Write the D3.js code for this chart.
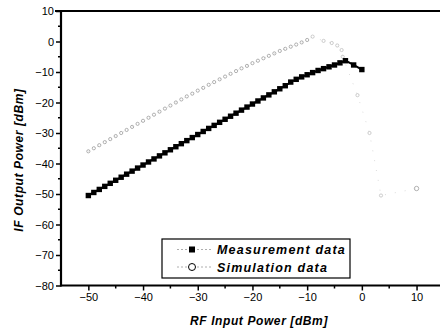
<!DOCTYPE html>
<html>
<head>
<meta charset="utf-8">
<script src="https://cdn.jsdelivr.net/npm/d3@7"></script>
<style>
  body { margin: 0; background: #fff; }
  svg { display: block; }
  text { font-family: "Liberation Sans", Arial, sans-serif; }
</style>
</head>
<body>
<div id="chart"></div>
<script>
// measurement data (filled squares)
let measX = [-50, -49, -48, -47, -46, -45, -44, -43, -42, -41, -40, -39, -38, -37, -36, -35, -34, -33, -32, -31,
  -30, -29, -28, -27, -26, -25, -24, -23, -22, -21, -20, -19, -18, -17, -16, -15, -14, -13, -12, -11,
  -10, -9, -8, -7, -6, -5, -4, -3, -1.5, 0];
let measY = [-50.5, -49.5, -48.5, -47.5, -46.5, -45.5, -44.5, -43.5, -42.5, -41.5, -40.5, -39.5, -38.5, -37.5, -36.5, -35.5, -34.5, -33.5, -32.5, -31.5,
  -30.5, -29.5, -28.5, -27.5, -26.5, -25.5, -24.5, -23.5, -22.5, -21.5, -20.5, -19.5, -18.5, -17.5, -16.5, -15.5, -14.5, -13.3, -12.4, -11.6,
  -10.9, -10.2, -9.5, -8.9, -8.3, -7.7, -7.0, -6.3, -7.7, -9.2];

// simulation data (open circles)
let simX = [-50, -49, -48, -47, -46, -45, -44, -43, -42, -41, -40, -39, -38, -37, -36, -35, -34, -33, -32, -31,
  -30, -29, -28, -27, -26, -25, -24, -23, -22, -21, -20, -19, -18, -17, -16, -15, -14, -13, -12, -11,
  -10, -9, -7, -5.5, -4.5, -3.7, -3.5, -0.8, 1.4, 3.5, 10];
let simY = [-36.0, -35.0, -34.0, -33.0, -32.0, -31.0, -30.0, -29.0, -28.0, -27.0, -26.0, -25.0, -24.0, -23.0, -22.0, -21.0, -20.0, -19.0, -18.0, -17.1,
  -16.1, -15.2, -14.2, -13.3, -12.4, -11.5, -10.6, -9.7, -8.8, -8.0, -7.1, -6.3, -5.5, -4.7, -3.9, -3.1, -2.4, -1.7, -1.0, -0.3,
  0.5, 1.6, 0.2, -0.5, -1.3, -2.8, -5.0, -17.6, -30.0, -50.5, -48.2];

let xTicks = [-50, -40, -30, -20, -10, 0, 10];
let xMinor = [-45, -35, -25, -15, -5, 5];
let yTicks = [10, 0, -10, -20, -30, -40, -50, -60, -70, -80];
let yMinor = [5, -5, -15, -25, -35, -45, -55, -65, -75];

let legendLabels = ['Measurement data', 'Simulation data'];

let width = 440, height = 334;
let margin = {top: 11, left: 61, bottom: 48};

let svg = d3.select('#chart').append('svg')
  .attr('width', width).attr('height', height);

let x = d3.scaleLinear().domain([-55, 15]).range([margin.left, margin.left + 70 * 5.47]);
let y = d3.scaleLinear().domain([10, -80]).range([margin.top, height - margin.bottom - 0.5]);

let meas = measX.map((v, i) => ({x: v, y: measY[i]}));
let sim = simX.map((v, i) => ({x: v, y: simY[i]}));

let line = d3.line().x(d => x(d.x)).y(d => y(d.y));

// simulation: faint dotted line + small open circles
svg.append('path')
  .attr('d', line(sim))
  .attr('fill', 'none')
  .attr('stroke', '#c4c4c4')
  .attr('stroke-width', 0.6)
  .attr('stroke-dasharray', '1,9');

svg.selectAll('.sim').data(sim).enter().append('circle')
  .attr('class', 'sim')
  .attr('cx', d => x(d.x)).attr('cy', d => y(d.y))
  .attr('r', d => d.x > 9 ? 2.2 : 1.6)
  .attr('fill', 'none')
  .attr('stroke', d => d.x > -10 && d.x < 9 ? '#b8b8b8' : '#909090')
  .attr('stroke-width', 0.7);

// measurement: line + filled squares
svg.append('path')
  .attr('d', line(meas))
  .attr('fill', 'none')
  .attr('stroke', '#000')
  .attr('stroke-width', 2);

svg.selectAll('.meas').data(meas).enter().append('rect')
  .attr('class', 'meas')
  .attr('x', d => x(d.x) - 2.7).attr('y', d => y(d.y) - 2.7)
  .attr('width', 5.4).attr('height', 5.4)
  .attr('fill', '#000');

// axes
let xAxis = d3.axisBottom(x).tickValues(xTicks).tickSize(5).tickPadding(3).tickFormat(d3.format('d'));
let yAxis = d3.axisLeft(y).tickValues(yTicks).tickSize(5).tickPadding(2).tickFormat(d3.format('d'));

let gx = svg.append('g')
  .attr('transform', 'translate(0,' + y(-80) + ')')
  .call(xAxis);
gx.select('.domain').remove();
gx.selectAll('.tick line').attr('stroke-width', 1.5);

gx.selectAll('.minor').data(xMinor).enter().append('line')
  .attr('x1', d => x(d)).attr('x2', d => x(d))
  .attr('y1', 0).attr('y2', 3)
  .attr('stroke', '#000').attr('stroke-width', 1.5);

let gy = svg.append('g')
  .attr('transform', 'translate(' + margin.left + ',0)')
  .call(yAxis);
gy.select('.domain').remove();
gy.selectAll('.tick line').attr('stroke-width', 1.5);

gy.selectAll('.minor').data(yMinor).enter().append('line')
  .attr('x1', 0).attr('x2', -3)
  .attr('y1', d => y(d)).attr('y2', d => y(d))
  .attr('stroke', '#000').attr('stroke-width', 1.5);

svg.selectAll('.tick text')
  .attr('font-size', '11px')
  .attr('font-family', '"Liberation Sans", Arial, sans-serif')
  .attr('fill', '#000');

// frame lines
svg.append('line')
  .attr('x1', margin.left).attr('x2', width)
  .attr('y1', y(-80)).attr('y2', y(-80))
  .attr('stroke', '#000').attr('stroke-width', 2.2);
svg.append('line')
  .attr('x1', margin.left - 6).attr('x2', width)
  .attr('y1', y(10)).attr('y2', y(10))
  .attr('stroke', '#000').attr('stroke-width', 2.2);
svg.append('line')
  .attr('x1', margin.left).attr('x2', margin.left)
  .attr('y1', y(10) - 1).attr('y2', y(-80) + 1)
  .attr('stroke', '#000').attr('stroke-width', 2.2);

// axis titles
svg.append('text')
  .attr('x', 259).attr('y', 325)
  .attr('text-anchor', 'middle')
  .attr('font-size', '12px')
  .attr('font-weight', 'bold')
  .attr('font-style', 'italic')
  .attr('letter-spacing', '0.6px')
  .text('RF Input Power [dBm]');

svg.append('text')
  .attr('transform', 'translate(23,160) rotate(-90)')
  .attr('text-anchor', 'middle')
  .attr('font-size', '12px')
  .attr('font-weight', 'bold')
  .attr('font-style', 'italic')
  .attr('letter-spacing', '0.6px')
  .text('IF Output Power [dBm]');

// legend
let lg = svg.append('g');
lg.append('rect')
  .attr('x', 162).attr('y', 239)
  .attr('width', 188).attr('height', 39)
  .attr('fill', '#fff')
  .attr('stroke', '#000').attr('stroke-width', 1.2);

let rows = lg.selectAll('.row').data(legendLabels).enter().append('g')
  .attr('transform', (d, i) => 'translate(0,' + (249.5 + i * 17.5) + ')');

rows.append('line')
  .attr('x1', 177).attr('x2', 211)
  .attr('stroke', '#999').attr('stroke-width', 0.8)
  .attr('stroke-dasharray', '2,2');

rows.filter((d, i) => i === 0).append('rect')
  .attr('x', 189).attr('y', -3).attr('width', 6).attr('height', 6)
  .attr('fill', '#000');

rows.filter((d, i) => i === 1).append('circle')
  .attr('cx', 192).attr('cy', 0).attr('r', 3.5)
  .attr('fill', '#fff').attr('stroke', '#000').attr('stroke-width', 1);

rows.append('text')
  .attr('x', 217).attr('y', 4.5)
  .attr('font-size', '12.5px')
  .attr('font-weight', 'bold')
  .attr('font-style', 'italic')
  .attr('letter-spacing', '1.2px')
  .text(d => d);
</script>
</body>
</html>
